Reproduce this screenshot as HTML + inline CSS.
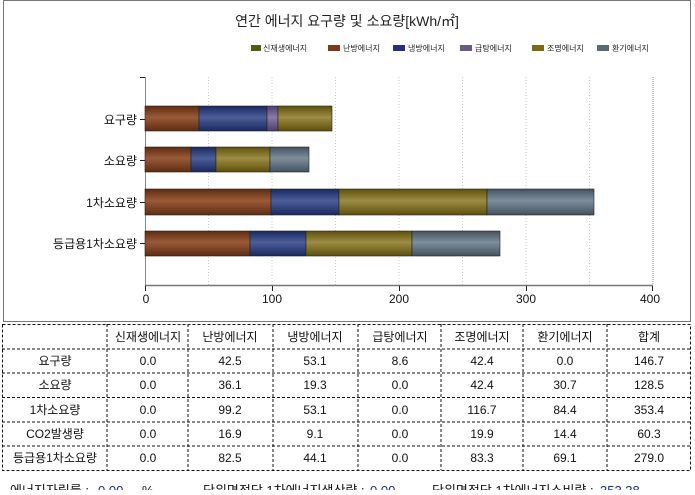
<!DOCTYPE html>
<html><head><meta charset="utf-8"><style>
body{margin:0;background:#fff;width:695px;height:490px;overflow:hidden}
text{font-family:"Liberation Sans","Noto Sans CJK KR",sans-serif}
</style></head><body>
<svg width="695" height="490" xmlns="http://www.w3.org/2000/svg">
<defs>
<linearGradient id="br" x1="0" y1="0" x2="0" y2="1"><stop offset="0" stop-color="#5e2c10"/><stop offset="0.45" stop-color="#9a5a38"/><stop offset="1" stop-color="#5e2c10"/></linearGradient>
<linearGradient id="bl" x1="0" y1="0" x2="0" y2="1"><stop offset="0" stop-color="#1a285e"/><stop offset="0.45" stop-color="#4c5e9a"/><stop offset="1" stop-color="#1a285e"/></linearGradient>
<linearGradient id="pu" x1="0" y1="0" x2="0" y2="1"><stop offset="0" stop-color="#4e3e6e"/><stop offset="0.45" stop-color="#8a7aa8"/><stop offset="1" stop-color="#4e3e6e"/></linearGradient>
<linearGradient id="ol" x1="0" y1="0" x2="0" y2="1"><stop offset="0" stop-color="#5e500c"/><stop offset="0.45" stop-color="#9c8c44"/><stop offset="1" stop-color="#5e500c"/></linearGradient>
<linearGradient id="gr" x1="0" y1="0" x2="0" y2="1"><stop offset="0" stop-color="#44525f"/><stop offset="0.45" stop-color="#7e8e9c"/><stop offset="1" stop-color="#44525f"/></linearGradient>
</defs>
<rect x="3.5" y="0.5" width="687" height="321" fill="#fff" stroke="#777"/>
<text x="347" y="26" font-size="14" text-anchor="middle" fill="#222">연간 에너지 요구량 및 소요량[kWh/㎡]</text>
<g font-size="8" fill="#222">
<rect x="251" y="45" width="10" height="6" fill="#4b5e12"/><text x="263" y="51">신재생에너지</text>
<rect x="328" y="45" width="12" height="6" fill="#7b3a18"/><text x="343" y="51">난방에너지</text>
<rect x="393" y="45" width="12" height="6" fill="#23307a"/><text x="408" y="51">냉방에너지</text>
<rect x="460" y="45" width="12" height="6" fill="#6a5a8a"/><text x="475" y="51">급탕에너지</text>
<rect x="532" y="45" width="12" height="6" fill="#7a6a10"/><text x="547" y="51">조명에너지</text>
<rect x="597" y="45" width="12" height="6" fill="#56687a"/><text x="612" y="51">환기에너지</text>
</g>
<g stroke="#ccc" stroke-dasharray="1,2">
<line x1="208.5" y1="77" x2="208.5" y2="285"/><line x1="272" y1="77" x2="272" y2="285"/><line x1="335.5" y1="77" x2="335.5" y2="285"/><line x1="399" y1="77" x2="399" y2="285"/><line x1="462.5" y1="77" x2="462.5" y2="285"/><line x1="526" y1="77" x2="526" y2="285"/><line x1="589.5" y1="77" x2="589.5" y2="285"/>
</g>
<line x1="653" y1="77" x2="653" y2="285" stroke="#888" stroke-dasharray="1,1"/>
<line x1="145.5" y1="77" x2="145.5" y2="286" stroke="#888"/>
<line x1="145" y1="285.5" x2="653" y2="285.5" stroke="#777" stroke-width="1.5"/>
<g stroke="#222"><line x1="140" y1="77.5" x2="145" y2="77.5"/><line x1="140" y1="119.5" x2="145" y2="119.5"/><line x1="140" y1="160.5" x2="145" y2="160.5"/><line x1="140" y1="202.5" x2="145" y2="202.5"/><line x1="140" y1="243.5" x2="145" y2="243.5"/>
<line x1="145.5" y1="286" x2="145.5" y2="291"/><line x1="272.5" y1="286" x2="272.5" y2="291"/><line x1="399.5" y1="286" x2="399.5" y2="291"/><line x1="526.5" y1="286" x2="526.5" y2="291"/><line x1="652.5" y1="286" x2="652.5" y2="291"/></g>
<g font-size="12" fill="#111" text-anchor="end">
<text x="137" y="124">요구량</text><text x="137" y="165">소요량</text><text x="137" y="207">1차소요량</text><text x="137" y="248">등급용1차소요량</text></g>
<g font-size="12" fill="#111" text-anchor="middle">
<text x="146" y="303">0</text><text x="272" y="303">100</text><text x="399" y="303">200</text><text x="526" y="303">300</text><text x="650" y="303">400</text></g>
<g stroke="#222" stroke-width="0.6">
<rect x="145" y="106" width="54" height="25" fill="url(#br)"/><rect x="199" y="106" width="68" height="25" fill="url(#bl)"/><rect x="267" y="106" width="11" height="25" fill="url(#pu)"/><rect x="278" y="106" width="54" height="25" fill="url(#ol)"/>
<rect x="145" y="147" width="46" height="25" fill="url(#br)"/><rect x="191" y="147" width="25" height="25" fill="url(#bl)"/><rect x="216" y="147" width="54" height="25" fill="url(#ol)"/><rect x="270" y="147" width="39" height="25" fill="url(#gr)"/>
<rect x="145" y="189" width="126" height="26" fill="url(#br)"/><rect x="271" y="189" width="68" height="26" fill="url(#bl)"/><rect x="339" y="189" width="148" height="26" fill="url(#ol)"/><rect x="487" y="189" width="107" height="26" fill="url(#gr)"/>
<rect x="145" y="231" width="105" height="25" fill="url(#br)"/><rect x="250" y="231" width="56" height="25" fill="url(#bl)"/><rect x="306" y="231" width="106" height="25" fill="url(#ol)"/><rect x="412" y="231" width="88" height="25" fill="url(#gr)"/>
</g>
<g stroke="#111" stroke-dasharray="3,2" fill="none">
<rect x="2.5" y="324.5" width="688" height="146"/>
<line x1="2" y1="349" x2="690" y2="349"/><line x1="2" y1="373" x2="690" y2="373"/><line x1="2" y1="397.5" x2="690" y2="397.5"/><line x1="2" y1="422" x2="690" y2="422"/><line x1="2" y1="446" x2="690" y2="446"/>
<line x1="107" y1="324" x2="107" y2="470"/><line x1="188" y1="324" x2="188" y2="470"/><line x1="273" y1="324" x2="273" y2="470"/><line x1="358" y1="324" x2="358" y2="470"/><line x1="441" y1="324" x2="441" y2="470"/><line x1="523" y1="324" x2="523" y2="470"/><line x1="607" y1="324" x2="607" y2="470"/>
</g>
<g font-size="12" fill="#111" text-anchor="middle">
<text x="148" y="341">신재생에너지</text><text x="230" y="341">난방에너지</text><text x="315" y="341">냉방에너지</text><text x="400" y="341">급탕에너지</text><text x="482" y="341">조명에너지</text><text x="565" y="341">환기에너지</text><text x="649" y="341">합계</text>
<text x="55" y="365">요구량</text><text x="148" y="365">0.0</text><text x="230" y="365">42.5</text><text x="315" y="365">53.1</text><text x="400" y="365">8.6</text><text x="482" y="365">42.4</text><text x="565" y="365">0.0</text><text x="649" y="365">146.7</text>
<text x="55" y="389">소요량</text><text x="148" y="389">0.0</text><text x="230" y="389">36.1</text><text x="315" y="389">19.3</text><text x="400" y="389">0.0</text><text x="482" y="389">42.4</text><text x="565" y="389">30.7</text><text x="649" y="389">128.5</text>
<text x="55" y="414">1차소요량</text><text x="148" y="414">0.0</text><text x="230" y="414">99.2</text><text x="315" y="414">53.1</text><text x="400" y="414">0.0</text><text x="482" y="414">116.7</text><text x="565" y="414">84.4</text><text x="649" y="414">353.4</text>
<text x="55" y="438">CO2발생량</text><text x="148" y="438">0.0</text><text x="230" y="438">16.9</text><text x="315" y="438">9.1</text><text x="400" y="438">0.0</text><text x="482" y="438">19.9</text><text x="565" y="438">14.4</text><text x="649" y="438">60.3</text>
<text x="55" y="462">등급용1차소요량</text><text x="148" y="462">0.0</text><text x="230" y="462">82.5</text><text x="315" y="462">44.1</text><text x="400" y="462">0.0</text><text x="482" y="462">83.3</text><text x="565" y="462">69.1</text><text x="649" y="462">279.0</text>
</g>
<g font-size="13" fill="#111">
<text x="10" y="495">에너지자립률 :</text><text x="98" y="495" fill="#1a2aa0">0.00</text><text x="142" y="495">%</text>
<text x="203" y="495">단위면적당 1차에너지생산량 :</text><text x="370" y="495" fill="#1a2aa0">0.00</text>
<text x="432" y="495">단위면적당 1차에너지소비량 :</text><text x="600" y="495" fill="#1a2aa0">353.38</text>
</g>
</svg>
</body></html>
